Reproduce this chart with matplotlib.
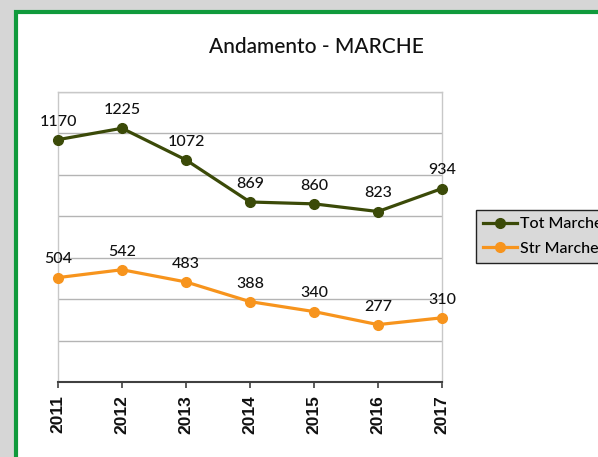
import matplotlib.pyplot as plt
from matplotlib.patches import Rectangle

# dati
anni = [2011, 2012, 2013, 2014, 2015, 2016, 2017]
tot_marche = [1170, 1225, 1072, 869, 860, 823, 934]
str_marche = [504, 542, 483, 388, 340, 277, 310]

col_tot = '#3b4a08'
col_str = '#f7941d'

plt.rcParams['font.family'] = ['Lato', 'DejaVu Sans']

fig = plt.figure(figsize=(5.98, 4.57), dpi=100, facecolor='#d6d6d6')

# cornice verde
fig.patches.append(Rectangle((15.5 / 598, -0.05), 1.0, (457 - 11.5) / 457 + 0.05,
                             transform=fig.transFigure, facecolor='white',
                             edgecolor='#109a3c', linewidth=3, zorder=-5))

ax = fig.add_axes([58 / 598, 75 / 457, 384 / 598, 290 / 457])
ax.set_facecolor('white')

ax.plot(anni, tot_marche, color=col_tot, lw=2.3, marker='o', ms=7, label='Tot Marche', zorder=3, clip_on=False)
ax.plot(anni, str_marche, color=col_str, lw=2.3, marker='o', ms=7, label='Str Marche', zorder=3, clip_on=False)

for x, y in zip(anni, tot_marche):
    ax.annotate(str(y), (x, y), xytext=(0, 8), textcoords='offset points',
                ha='center', va='bottom', fontsize=11.5, color='#111111', fontweight='medium')
for x, y in zip(anni, str_marche):
    ax.annotate(str(y), (x, y), xytext=(0, 8), textcoords='offset points',
                ha='center', va='bottom', fontsize=11.5, color='#111111', fontweight='medium')

ax.set_xlim(2011, 2017)
ax.set_ylim(0, 1400)
ax.set_yticks(range(0, 1401, 200))
ax.set_yticklabels([])
ax.tick_params(axis='y', length=0)
ax.grid(axis='y', color='#b4b4b4', lw=1)
ax.set_axisbelow(True)

ax.set_xticks(anni)
ax.set_xticklabels([str(a) for a in anni], rotation=90, fontsize=12.5, color='#111111',
                   family=['Liberation Sans', 'DejaVu Sans'], fontweight='bold')
ax.tick_params(axis='x', direction='out', length=4.5, width=1.2, color='#404040', pad=5)

for s in ['top', 'left', 'right']:
    ax.spines[s].set_color('#c8c8c8')
    ax.spines[s].set_linewidth(1)
ax.spines['bottom'].set_color('#404040')
ax.spines['bottom'].set_linewidth(1.5)

fig.text(316 / 598, 1 - 47 / 457, 'Andamento - MARCHE', ha='center', va='center',
         fontsize=15, color='#111111', fontweight='medium')

leg = ax.legend(loc='upper left', bbox_to_anchor=(476 / 598, 1 - 210 / 457),
                bbox_transform=fig.transFigure, prop={'size': 11.5, 'weight': 'medium'},
                frameon=True, fancybox=False, framealpha=1, facecolor='#d9d9d9',
                edgecolor='#222222', handlelength=2.1, handletextpad=0.2,
                borderpad=0.45, labelspacing=0.65, borderaxespad=0)
leg.get_frame().set_linewidth(1)

fig.savefig('out.png', dpi=100, facecolor=fig.get_facecolor())
